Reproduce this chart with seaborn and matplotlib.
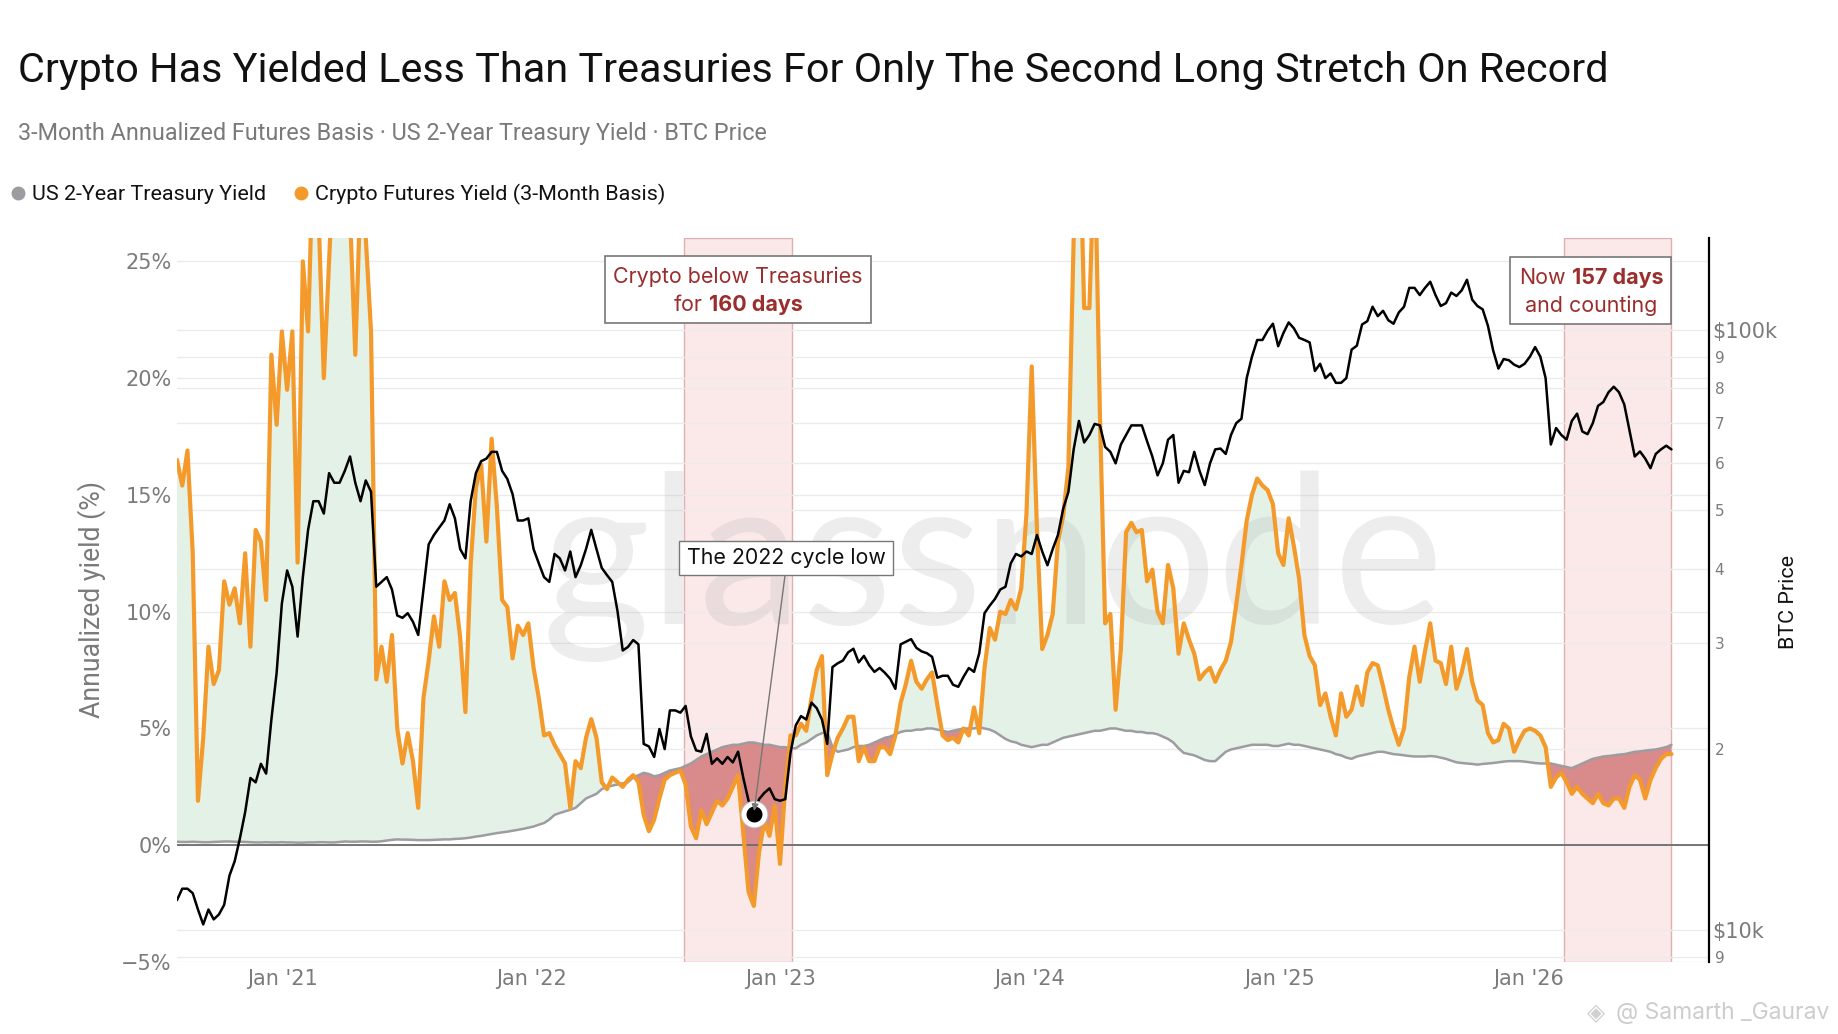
import pandas as pd
import numpy as np
import seaborn as sns
import matplotlib.pyplot as plt
import matplotlib.dates as mdates
import matplotlib.ticker as mticker
from matplotlib.lines import Line2D
from matplotlib.patches import Rectangle

W, H = 1838, 1034

# ---- data (roughly weekly samples) ----
start_date = "2020-07-31"
end_date = "2026-07-29"

crypto_yield = [
    16.5, 15.4, 16.9, 12.5, 1.9, 4.6, 8.5, 6.9, 7.5, 11.3,
    10.3, 11.0, 9.5, 12.5, 8.5, 13.5, 13.0, 10.5, 21.0, 18.0,
    22.0, 19.5, 22.0, 12.1, 25.0, 22.0, 30.0, 27.0, 20.0, 25.0,
    30.0, 30.0, 30.0, 27.0, 21.0, 28.0, 26.0, 22.0, 7.1, 8.5,
    7.0, 9.0, 5.0, 3.5, 4.8, 3.6, 1.6, 6.3, 7.9, 9.8,
    8.5, 11.3, 10.5, 10.8, 8.9, 5.7, 12.0, 15.3, 16.3, 13.0,
    17.4, 14.5, 10.5, 10.2, 8.0, 9.4, 9.0, 9.5, 7.6, 6.3,
    4.7, 4.8, 4.3, 3.9, 3.5, 1.6, 3.6, 3.3, 4.6, 5.4,
    4.6, 2.7, 2.4, 2.9, 2.7, 2.5, 2.8, 3.0, 2.7, 1.3,
    0.6, 1.1, 2.0, 2.8, 3.0, 3.1, 3.2, 2.6, 0.8, 0.3,
    1.5, 0.9, 1.4, 1.9, 1.7, 2.0, 2.5, 3.0, 0.5, -2.0,
    -2.6, -0.3, 1.0, 0.4, 1.7, -0.8, 2.5, 4.7, 4.7, 5.2,
    4.9, 6.3, 7.5, 8.1, 3.0, 3.9, 4.6, 5.0, 5.5, 5.5,
    3.6, 4.2, 3.6, 3.6, 4.2, 4.2, 3.9, 4.7, 6.1, 6.9,
    7.9, 7.0, 6.7, 7.1, 7.4, 6.0, 4.7, 4.5, 4.6, 4.4,
    5.0, 4.7, 5.9, 4.8, 7.6, 9.3, 8.8, 10.0, 9.9, 10.5,
    10.1, 11.0, 14.2, 20.5, 13.5, 8.4, 9.0, 9.9, 13.0, 14.1,
    16.2, 26.0, 32.0, 23.0, 23.0, 30.0, 18.5, 9.5, 9.9, 5.8,
    8.4, 13.4, 13.8, 13.4, 13.5, 11.3, 11.8, 10.0, 9.5, 12.0,
    11.0, 8.2, 9.5, 8.8, 8.2, 7.1, 7.4, 7.6, 7.0, 7.5,
    7.9, 8.7, 10.3, 12.0, 13.9, 15.0, 15.7, 15.4, 15.2, 14.6,
    12.5, 12.0, 14.0, 12.8, 11.4, 9.0, 8.1, 7.7, 6.0, 6.5,
    5.5, 4.7, 6.5, 5.5, 5.8, 6.8, 6.0, 7.4, 7.8, 7.7,
    6.8, 5.8, 5.0, 4.3, 5.0, 7.2, 8.5, 7.0, 8.3, 9.5,
    7.9, 7.8, 6.9, 8.5, 6.7, 7.4, 8.4, 7.0, 6.2, 6.0,
    4.8, 4.4, 4.5, 5.2, 5.0, 4.0, 4.5, 4.9, 5.0, 4.9,
    4.7, 4.2, 2.5, 2.9, 3.1, 2.7, 2.2, 2.5, 2.2, 2.0,
    1.8, 2.2, 1.8, 1.7, 2.0, 2.0, 1.6, 2.5, 3.0, 2.8,
    2.0, 2.8, 3.3, 3.7, 3.9, 3.9,
]

treasury_yield = [
    0.15, 0.14, 0.14, 0.15, 0.14, 0.13, 0.13, 0.14, 0.15, 0.16,
    0.16, 0.15, 0.15, 0.14, 0.13, 0.12, 0.12, 0.13, 0.12, 0.12,
    0.13, 0.12, 0.12, 0.11, 0.11, 0.12, 0.12, 0.13, 0.13, 0.12,
    0.12, 0.14, 0.16, 0.15, 0.15, 0.16, 0.16, 0.15, 0.15, 0.17,
    0.20, 0.23, 0.25, 0.24, 0.24, 0.23, 0.22, 0.22, 0.22, 0.23,
    0.24, 0.25, 0.25, 0.27, 0.28, 0.30, 0.33, 0.37, 0.40, 0.44,
    0.48, 0.52, 0.55, 0.58, 0.62, 0.66, 0.70, 0.75, 0.80, 0.88,
    0.95, 1.10, 1.30, 1.38, 1.45, 1.52, 1.60, 1.80, 2.00, 2.10,
    2.20, 2.40, 2.50, 2.55, 2.60, 2.65, 2.70, 2.90, 3.00, 3.10,
    3.05, 2.95, 3.00, 3.10, 3.20, 3.25, 3.30, 3.40, 3.50, 3.65,
    3.80, 3.90, 4.00, 4.10, 4.20, 4.25, 4.30, 4.30, 4.35, 4.40,
    4.40, 4.35, 4.30, 4.30, 4.25, 4.20, 4.20, 4.15, 4.15, 4.30,
    4.40, 4.55, 4.70, 4.80, 4.85, 4.20, 4.00, 4.05, 4.10, 4.20,
    4.25, 4.25, 4.30, 4.40, 4.50, 4.60, 4.65, 4.75, 4.85, 4.90,
    4.90, 4.95, 4.95, 5.00, 5.00, 4.95, 4.90, 4.85, 4.90, 4.95,
    5.00, 5.00, 5.00, 5.05, 5.00, 4.95, 4.85, 4.70, 4.55, 4.45,
    4.40, 4.30, 4.25, 4.20, 4.25, 4.30, 4.30, 4.40, 4.50, 4.60,
    4.65, 4.70, 4.75, 4.80, 4.85, 4.90, 4.90, 4.95, 5.00, 5.00,
    4.95, 4.90, 4.90, 4.85, 4.85, 4.80, 4.80, 4.75, 4.65, 4.55,
    4.40, 4.15, 3.95, 3.90, 3.85, 3.75, 3.65, 3.60, 3.60, 3.80,
    4.00, 4.10, 4.15, 4.20, 4.25, 4.30, 4.30, 4.30, 4.30, 4.25,
    4.25, 4.30, 4.35, 4.30, 4.30, 4.25, 4.20, 4.15, 4.10, 4.05,
    4.00, 3.90, 3.85, 3.75, 3.70, 3.80, 3.85, 3.90, 3.95, 4.00,
    4.00, 3.95, 3.90, 3.88, 3.85, 3.82, 3.80, 3.80, 3.80, 3.82,
    3.80, 3.75, 3.70, 3.62, 3.55, 3.52, 3.50, 3.48, 3.45, 3.48,
    3.50, 3.52, 3.55, 3.58, 3.60, 3.60, 3.60, 3.58, 3.55, 3.52,
    3.50, 3.50, 3.50, 3.45, 3.40, 3.35, 3.30, 3.40, 3.50, 3.60,
    3.70, 3.75, 3.80, 3.82, 3.85, 3.88, 3.90, 3.95, 4.00, 4.02,
    4.05, 4.08, 4.10, 4.15, 4.20, 4.30,
]

# BTC price in $k
btc_price_k = [
    11.2, 11.7, 11.7, 11.5, 10.8, 10.2, 10.8, 10.4, 10.6, 11.0,
    12.3, 13.0, 14.2, 15.7, 17.9, 17.6, 18.9, 18.2, 22.4, 26.8,
    35.0, 39.7, 37.3, 30.8, 38.7, 46.4, 51.8, 51.8, 49.4, 57.7,
    55.6, 55.6, 58.2, 61.5, 55.6, 51.8, 56.1, 53.7, 37.3, 38.0,
    38.7, 36.9, 33.4, 33.1, 33.7, 32.6, 31.0, 36.9, 43.9, 45.5,
    46.8, 48.1, 51.2, 48.5, 43.1, 41.6, 51.8, 57.7, 60.4, 61.0,
    62.6, 62.6, 58.2, 56.4, 53.2, 48.1, 48.1, 48.5, 43.1, 40.8,
    38.7, 38.0, 42.3, 41.6, 39.7, 42.7, 38.7, 40.5, 43.1, 46.4,
    43.1, 40.1, 39.0, 38.0, 34.0, 29.2, 29.6, 30.4, 29.9, 20.4,
    20.2, 19.4, 21.6, 20.0, 23.2, 23.2, 23.0, 23.6, 21.0, 19.9,
    19.8, 21.2, 18.9, 19.3, 18.9, 19.4, 19.0, 19.8, 17.9, 16.4,
    15.6, 16.5, 16.9, 17.2, 16.5, 16.4, 16.5, 19.7, 21.9, 22.7,
    22.4, 23.9, 23.4, 22.4, 20.4, 27.4, 27.8, 28.1, 29.0, 29.4,
    27.9, 28.6, 27.6, 26.9, 27.3, 26.8, 26.2, 25.2, 29.9, 30.2,
    30.5, 29.5, 29.1, 28.9, 28.5, 26.3, 26.5, 26.5, 25.6, 25.4,
    26.4, 27.3, 26.9, 28.9, 33.7, 34.7, 35.6, 36.9, 37.3, 40.8,
    42.3, 41.9, 42.7, 42.3, 45.5, 42.7, 40.5, 43.1, 45.5, 50.3,
    53.7, 63.2, 70.5, 64.9, 66.8, 69.7, 69.3, 63.8, 62.6, 59.9,
    64.4, 66.8, 69.3, 69.3, 69.3, 65.2, 61.5, 57.2, 59.9, 65.6,
    66.8, 55.6, 58.2, 57.9, 62.6, 58.2, 55.1, 59.9, 63.2, 63.4,
    62.1, 66.8, 69.9, 71.1, 83.1, 90.2, 96.2, 96.2, 99.7, 102.4,
    93.9, 98.8, 102.9, 100.6, 97.0, 96.2, 95.3, 85.4, 87.8, 83.1,
    84.6, 81.6, 81.6, 83.1, 92.7, 94.1, 102.1, 103.4, 109.3, 105.4,
    107.6, 103.8, 102.4, 106.9, 109.3, 117.5, 117.5, 114.3, 117.5, 120.3,
    114.3, 109.6, 110.8, 115.4, 113.9, 116.4, 121.2, 112.3, 109.6, 108.2,
    101.6, 92.4, 86.2, 89.4, 89.0, 87.5, 86.7, 87.8, 90.2, 93.6,
    90.2, 83.1, 64.4, 68.6, 66.8, 65.6, 70.5, 72.5, 67.7, 67.0,
    69.9, 74.7, 75.8, 78.7, 80.4, 78.7, 75.1, 68.0, 61.5, 62.7,
    61.0, 58.8, 62.1, 63.2, 64.1, 63.2,
]

span_2022 = ("2022-08-12", "2023-01-18")
span_now = ("2026-02-22", "2026-07-29")
yield_ticks = [-5, 0, 5, 10, 15, 20, 25]
btc_major = [10000, 100000]
btc_major_labels = ["$10k", "$100k"]
btc_minor = [9000, 20000, 30000, 40000, 50000, 60000, 70000, 80000, 90000]
btc_minor_labels = ["9", "2", "3", "4", "5", "6", "7", "8", "9"]

df = pd.DataFrame({
    "date": pd.date_range(start_date, end_date, periods=len(crypto_yield)),
    "crypto": crypto_yield,
    "treasury": treasury_yield,
    "btc": np.array(btc_price_k) * 1000,
})

# ---- style ----
sns.set_theme(style="white")
plt.rcParams["font.family"] = ["DejaVu Sans"]

ORANGE = "#f39a2b"
GREY_LINE = "#9d9da1"
TICK_GREY = "#7b7b7b"
RED_TXT = "#9b2d2d"
YL = (-5, 26)
BL = (8830, 142300)

fig = plt.figure(figsize=(W / 100, H / 100), dpi=100)
ax = fig.add_axes([177 / W, 1 - 962 / H, (1709 - 177) / W, (962 - 238) / H])
ax2 = ax.twinx()
renderer = fig.canvas.get_renderer()


def fit_size(s, target, family, weight="normal"):
    t = fig.text(0, 0, s, fontsize=20, family=family, fontweight=weight)
    w = t.get_window_extent(renderer).width
    t.remove()
    return 20 * target / w


# shaded stretches
for a, b in [span_2022, span_now]:
    ax.axvspan(pd.Timestamp(a), pd.Timestamp(b), facecolor="#fbe9e9",
               edgecolor="#e0b0b0", lw=1, zorder=0.2)

# grid: yield ticks + BTC ticks (drawn on the lower axes so lines sit on top)
ax.set_ylim(*YL)
ax.set_yticks(yield_ticks)
ax.grid(axis="y", color="#ebebeb", lw=1)
ax.grid(axis="x", visible=False)
ax.set_axisbelow(True)
for v in btc_major + btc_minor:
    frac = (np.log10(v) - np.log10(BL[0])) / (np.log10(BL[1]) - np.log10(BL[0]))
    ax.axhline(YL[0] + frac * (YL[1] - YL[0]), color="#ebebeb", lw=1, zorder=0.5)

# fills between crypto yield and treasury yield
above = df["crypto"] >= df["treasury"]
ax.fill_between(df["date"], df["crypto"], df["treasury"], where=above,
                interpolate=True, color="#e3f1e7", lw=0, zorder=1)
ax.fill_between(df["date"], df["crypto"], df["treasury"], where=~above,
                interpolate=True, color="#d98a8a", lw=0, zorder=1)

# watermark
ax.text(542 / W, 1 - 624 / H, "glassnode", transform=fig.transFigure,
        fontsize=150, family="Lato", color="#a8a8a8", alpha=0.2,
        ha="left", va="baseline", zorder=1.5)

ax.axhline(0, color="#6b6b6b", lw=1.3, zorder=1.8)

sns.lineplot(data=df, x="date", y="treasury", ax=ax, color=GREY_LINE, lw=1.8, zorder=2)
sns.lineplot(data=df, x="date", y="crypto", ax=ax, color=ORANGE, lw=3, zorder=2.5)
sns.lineplot(data=df, x="date", y="btc", ax=ax2, color="black", lw=1.8, zorder=3)

ax.set_xlim(pd.Timestamp("2020-07-31"), pd.Timestamp("2026-09-22"))
ax.set_ylim(*YL)
ax.set_xlabel("")
ax.set_ylabel("")
ax2.set_xlabel("")
ax2.set_ylabel("")

ax.xaxis.set_major_locator(mdates.YearLocator())
ax.xaxis.set_major_formatter(mdates.DateFormatter("Jan '%y"))
ax.yaxis.set_major_formatter(mticker.FuncFormatter(
    lambda v, p: f"{int(v)}%".replace("-", "\u2212")))
ax.tick_params(axis="both", length=0, labelsize=15, colors=TICK_GREY)
ax.tick_params(axis="x", pad=5)
ax.tick_params(axis="y", pad=4)
for s in ax.spines.values():
    s.set_visible(False)

ax2.set_yscale("log")
ax2.set_ylim(*BL)
ax2.yaxis.set_major_locator(mticker.FixedLocator(btc_major))
ax2.yaxis.set_major_formatter(mticker.FixedFormatter(btc_major_labels))
ax2.yaxis.set_minor_locator(mticker.FixedLocator(btc_minor))
ax2.yaxis.set_minor_formatter(mticker.FixedFormatter(btc_minor_labels))
ax2.tick_params(axis="y", which="major", length=0, labelsize=15, colors=TICK_GREY, pad=2)
ax2.tick_params(axis="y", which="minor", length=0, labelsize=11, colors=TICK_GREY, pad=4)
ax2.grid(False)
for name, s in ax2.spines.items():
    s.set_visible(name == "right")
ax2.spines["right"].set_color("black")
ax2.spines["right"].set_linewidth(1.6)

# cycle low marker + callout
by_date = df.set_index("date")
low_date = by_date.loc["2022-06":"2023-03", "btc"].idxmin()
low_val = by_date.loc[low_date, "btc"]
ax2.plot([low_date], [low_val], "o", ms=19, mfc="none", mec="#bbbbbb", mew=1, zorder=5)
ax2.plot([low_date], [low_val], "o", ms=15, mfc="black", mec="white", mew=3.5, zorder=6)
low_size = fit_size("The 2022 cycle low", 199, "Inter")
ax2.annotate("The 2022 cycle low", xy=(low_date, low_val),
             xytext=(786 / W, 1 - 558 / H), textcoords="figure fraction",
             ha="center", va="center", fontsize=low_size, family="Inter", color="#111111",
             bbox=dict(boxstyle="square,pad=0.35", fc="white", ec="#777777", lw=1),
             arrowprops=dict(arrowstyle="-|>", color="#777777", lw=1, shrinkA=0,
                             shrinkB=2, mutation_scale=10, relpos=(0.5, 0)),
             zorder=7)

# ---- boxed captions with a bold part ----
box_size = fit_size("Crypto below Treasuries", 250, "Inter")


def rich_line(parts, cx, base_y, size, color):
    pieces = [fig.text(0, 0, s, fontsize=size, family="Inter", fontweight=wt,
                       color=color, va="baseline", zorder=7) for s, wt in parts]
    widths = [p.get_window_extent(renderer).width for p in pieces]
    t1 = fig.text(0, 0, "a a", fontsize=size, family="Inter")
    t2 = fig.text(0, 0, "aa", fontsize=size, family="Inter")
    space = t1.get_window_extent(renderer).width - t2.get_window_extent(renderer).width
    t1.remove()
    t2.remove()
    x = cx - (sum(widths) + space * (len(parts) - 1)) / 2
    for p, w in zip(pieces, widths):
        p.set_position((x / W, 1 - base_y / H))
        x += w + space


for (x0, y0, x1, y1) in [(605, 256, 871, 323), (1510, 257, 1671, 324)]:
    fig.add_artist(Rectangle((x0 / W, 1 - y1 / H), (x1 - x0) / W, (y1 - y0) / H,
                             transform=fig.transFigure, fc="white", ec="#777777",
                             lw=1.2, zorder=6))

rich_line([("Crypto below Treasuries", "normal")], 738, 283, box_size, RED_TXT)
rich_line([("for", "normal"), ("160 days", "bold")], 738, 311, box_size, RED_TXT)
rich_line([("Now", "normal"), ("157 days", "bold")], 1591, 284, box_size, RED_TXT)
rich_line([("and counting", "normal")], 1591, 312, box_size, RED_TXT)

# ---- titles, legend, axis labels ----
title = "Crypto Has Yielded Less Than Treasuries For Only The Second Long Stretch On Record"
fig.text(18 / W, 1 - 82 / H, title, fontsize=fit_size(title, 1587, "Roboto"),
         family="Roboto", color="#111111", va="baseline")
sub = "3-Month Annualized Futures Basis \u00b7 US 2-Year Treasury Yield \u00b7 BTC Price"
fig.text(18 / W, 1 - 140 / H, sub, fontsize=fit_size(sub, 746, "Roboto"),
         family="Roboto", color="#7a7a7a", va="baseline")

leg_size = fit_size("US 2-Year Treasury Yield", 234, "Roboto")
fig.add_artist(Line2D([17.6 / W], [1 - 193 / H], marker="o", ms=9, color="#9d9da1",
                      transform=fig.transFigure))
fig.text(32 / W, 1 - 200 / H, "US 2-Year Treasury Yield", fontsize=leg_size,
         family="Roboto", color="#111111", va="baseline")
fig.add_artist(Line2D([301 / W], [1 - 193 / H], marker="o", ms=9, color=ORANGE,
                      transform=fig.transFigure))
fig.text(315 / W, 1 - 200 / H, "Crypto Futures Yield (3-Month Basis)", fontsize=leg_size,
         family="Roboto", color="#111111", va="baseline")

fig.text(92 / W, 1 - 600 / H, "Annualized yield (%)", rotation=90, ha="center", va="center",
         fontsize=fit_size("Annualized yield (%)", 236, "Roboto"), family="Roboto",
         color="#7a7a7a")
fig.text(1789 / W, 1 - 602 / H, "BTC Price", rotation=90, ha="center", va="center",
         fontsize=fit_size("BTC Price", 94, "Roboto"), family="Roboto", color="#111111")

fig.text(1596 / W, 1 - 1013 / H, "\u25c8", fontsize=17, color="#d0d0d0",
         ha="center", va="center")
fig.text(1616 / W, 1 - 1013 / H, "@ Samarth _Gaurav", fontsize=16.5, family="Inter",
         color="#cdcdcd", ha="left", va="center")

fig.savefig("out.png", dpi=100)
